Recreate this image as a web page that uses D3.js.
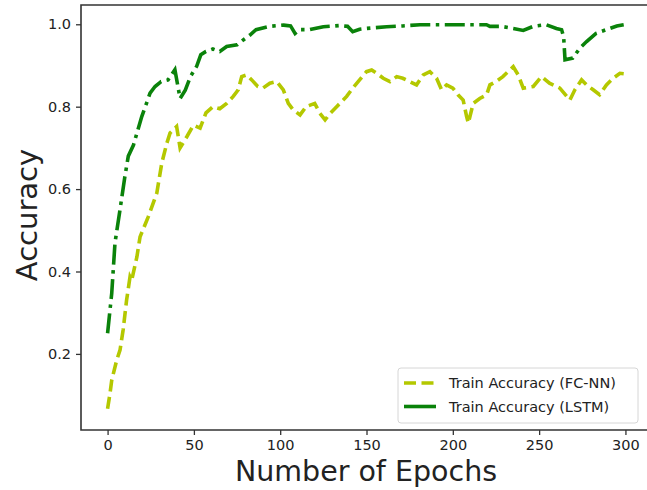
<!DOCTYPE html>
<html>
<head>
<meta charset="utf-8">
<script src="https://cdn.jsdelivr.net/npm/d3@7"></script>
<style>
  html, body { margin: 0; background: #fff; overflow: hidden; }
  svg { display: block; overflow: hidden; }
  text { font-family: "DejaVu Sans", sans-serif; fill: #222; }
</style>
</head>
<body>
<svg id="chart" width="647" height="490"></svg>
<script>
// epochs and accuracy
var lstmEpochs = [0, 2.4, 4.3, 7.2, 10, 12, 15, 17, 19.8, 22.7, 24.6, 27.5, 31, 35, 39, 42, 45, 48, 51.6, 54, 57, 61, 65, 69, 75, 78.6, 82.5, 86, 94, 102, 106, 108.6, 111, 117, 125, 134.6, 139, 142, 146, 150, 161.7, 171, 181, 192, 202, 212, 219.5, 221.5, 228, 235, 240.8, 246.6, 254, 260, 263, 264.2, 265, 269.5, 273.6, 277.5, 283, 289, 295, 299];
var lstmAcc = [0.25, 0.347, 0.47, 0.55, 0.63, 0.68, 0.707, 0.736, 0.776, 0.81, 0.833, 0.849, 0.861, 0.865, 0.89, 0.82, 0.84, 0.873, 0.898, 0.926, 0.934, 0.94, 0.934, 0.946, 0.95, 0.962, 0.974, 0.987, 0.995, 0.998, 0.996, 0.978, 0.987, 0.987, 0.994, 0.997, 0.995, 0.982, 0.988, 0.99, 0.994, 0.996, 0.999, 0.999, 0.999, 0.999, 0.999, 0.995, 0.995, 0.99, 0.985, 0.995, 0.999, 0.99, 0.987, 0.97, 0.914, 0.918, 0.942, 0.958, 0.978, 0.987, 0.996, 0.999];

var fcEpochs = [0, 1.4, 2.4, 5.3, 7.2, 9, 11, 13, 14, 17, 18.8, 23.6, 28.5, 31.4, 34.3, 36.2, 40, 42, 45.9, 49.7, 53.6, 57, 61, 65, 69, 72.8, 75.7, 77.7, 80.6, 83.5, 87, 90, 94, 98, 101.8, 104.7, 107.6, 111.5, 115, 120, 123, 126, 129, 132.7, 136.5, 138.5, 142, 146, 150, 153, 156, 159.7, 163.6, 167.5, 171, 175, 179, 182.9, 186.7, 190.6, 193.5, 196.4, 200, 203, 206, 208, 209, 211.8, 215.6, 219.6, 221.5, 225, 229, 235, 237.9, 240.8, 246.6, 251.4, 256, 262, 267.8, 270.7, 274.6, 277.5, 281.3, 285, 289, 292.9, 296.8, 299];
var fcAcc = [0.067, 0.104, 0.136, 0.185, 0.209, 0.258, 0.33, 0.387, 0.379, 0.436, 0.484, 0.533, 0.59, 0.663, 0.711, 0.736, 0.752, 0.70, 0.727, 0.755, 0.748, 0.785, 0.80, 0.795, 0.808, 0.825, 0.841, 0.873, 0.877, 0.865, 0.849, 0.845, 0.857, 0.861, 0.841, 0.808, 0.792, 0.78, 0.80, 0.808, 0.784, 0.768, 0.784, 0.80, 0.816, 0.825, 0.845, 0.865, 0.885, 0.889, 0.881, 0.869, 0.861, 0.873, 0.869, 0.861, 0.853, 0.877, 0.885, 0.869, 0.841, 0.853, 0.845, 0.829, 0.816, 0.776, 0.76, 0.808, 0.82, 0.829, 0.853, 0.861, 0.873, 0.897, 0.877, 0.845, 0.849, 0.873, 0.857, 0.845, 0.816, 0.841, 0.865, 0.853, 0.841, 0.829, 0.853, 0.869, 0.881, 0.88];

var xTicks = [0, 50, 100, 150, 200, 250, 300];
var yTicks = [0.2, 0.4, 0.6, 0.8, 1.0];
var legendLabels = ["Train Accuracy (FC-NN)", "Train Accuracy (LSTM)"];

var svg = d3.select("#chart");
var W = 647;
var plotLeft = 81, plotRight = 649.6, plotTop = 5, plotBottom = 430;

var x = d3.scaleLinear().domain([-15.4, 314]).range([plotLeft, plotRight]);
var y = d3.scaleLinear().domain([0.0153, 1.0468]).range([plotBottom, plotTop]);

// frame: the right spine falls outside the picture, so only three sides
svg.append("path")
    .attr("d", `M${W},${plotTop}H${plotLeft}V${plotBottom}H${W}`)
    .attr("fill", "none").attr("stroke", "#333").attr("stroke-width", 1.6);

// axes
var xAxis = svg.append("g")
    .attr("transform", `translate(0,${plotBottom})`)
    .call(d3.axisBottom(x).tickValues(xTicks).tickSize(5).tickPadding(5).tickFormat(d3.format("d")));
var yAxis = svg.append("g")
    .attr("transform", `translate(${plotLeft},0)`)
    .call(d3.axisLeft(y).tickValues(yTicks).tickSize(5).tickPadding(5).tickFormat(d3.format(".1f")));
[xAxis, yAxis].forEach(function(a){
    a.select(".domain").remove();
    a.selectAll("line").attr("stroke", "#333").attr("stroke-width", 1.3);
    a.selectAll("text").style("font-size", "14.5px").attr("fill", "#222");
});

// lines
var lw = 3.6;
function makeLine(ep, acc){
    return d3.line()
        .x(function(d, i){ return x(ep[i]); })
        .y(function(d){ return y(d); })(acc);
}
svg.append("path")
    .attr("d", makeLine(fcEpochs, fcAcc))
    .attr("fill", "none").attr("stroke", "#b4c800")
    .attr("stroke-width", lw)
    .attr("stroke-dasharray", "12,5.5");
svg.append("path")
    .attr("d", makeLine(lstmEpochs, lstmAcc))
    .attr("fill", "none").attr("stroke", "#0a820a")
    .attr("stroke-width", lw)
    .attr("stroke-dasharray", "20,5.5,3.5,5.5");

// axis labels
svg.append("text")
    .attr("x", 366).attr("y", 481)
    .attr("text-anchor", "middle")
    .style("font-size", "28.5px")
    .text("Number of Epochs");
svg.append("text")
    .attr("transform", "translate(37,215) rotate(-90)")
    .attr("text-anchor", "middle")
    .style("font-size", "29px")
    .text("Accuracy");

// legend
var lg = svg.append("g");
lg.append("rect")
    .attr("x", 398).attr("y", 368)
    .attr("width", 240).attr("height", 55)
    .attr("rx", 3)
    .attr("fill", "#fff").attr("fill-opacity", 0.85)
    .attr("stroke", "#d6d6d6");
var legendStyles = [
    { color: "#b4c800", dash: "12,5.5" },
    { color: "#0a820a", dash: "none" }
];
legendLabels.forEach(function(label, i){
    var ly = 383 + i * 23.5;
    lg.append("line")
        .attr("x1", 404).attr("x2", 436)
        .attr("y1", ly).attr("y2", ly)
        .attr("stroke", legendStyles[i].color)
        .attr("stroke-width", lw)
        .attr("stroke-dasharray", legendStyles[i].dash);
    lg.append("text")
        .attr("x", 449).attr("y", ly + 5)
        .style("font-size", "14.5px")
        .text(label);
});
</script>
</body>
</html>
